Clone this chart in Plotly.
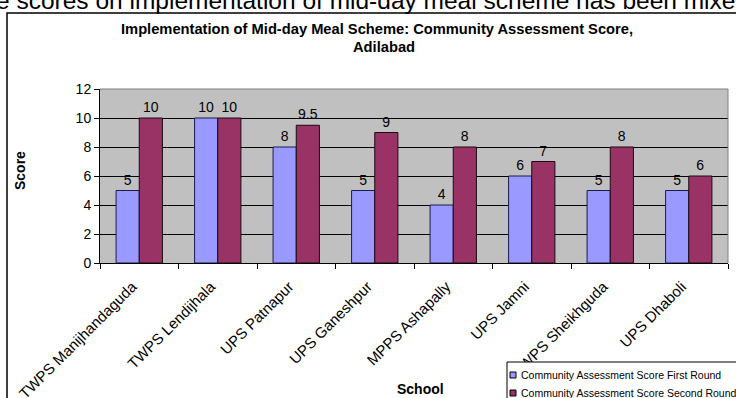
import plotly.graph_objects as go

schools = ["TWPS Manijhandaguda", "TWPS Lendijhala", "UPS Patnapur", "UPS Ganeshpur",
           "MPPS Ashapally", "UPS Jamni", "TWPS Sheikhguda", "UPS Dhaboli"]
first_round = [5, 10, 8, 5, 4, 6, 5, 5]
second_round = [10, 10, 9.5, 9, 8, 7, 8, 6]
first_labels = ["5", "10", "8", "5", "4", "6", "5", "5"]
second_labels = ["10", "10", "9.5", "9", "8", "7", "8", "6"]
series_names = ["Community Assessment Score First Round", "Community Assessment Score Second Round"]
series_colors = ["#9999FF", "#993366"]

W, H = 736, 398
L, R, T, B = 100, 8, 89, 135
pw, ph = W - L - R, H - T - B

def px(x):
    return (x - L) / pw

def py(y):
    return (H - B - y) / ph

fnt = "Liberation Sans, Arial, sans-serif"

fig = go.Figure()
fig.add_trace(go.Bar(
    x=schools, y=first_round, name=series_names[0],
    marker=dict(color=series_colors[0], line=dict(color="#1a1a4d", width=1)),
    text=first_labels, textposition="outside", cliponaxis=False,
    textfont=dict(size=14, color="black", family=fnt),
))
fig.add_trace(go.Bar(
    x=schools, y=second_round, name=series_names[1],
    marker=dict(color=series_colors[1], line=dict(color="#1a0a10", width=1)),
    text=second_labels, textposition="outside", cliponaxis=False,
    textfont=dict(size=14, color="black", family=fnt),
))

fig.update_layout(
    width=W, height=H,
    margin=dict(l=L, r=R, t=T, b=B, autoexpand=False),
    paper_bgcolor="white", plot_bgcolor="#C0C0C0",
    font=dict(family=fnt, color="black", size=12),
    barmode="group", bargap=0.41, bargroupgap=0,
    showlegend=False,
)
fig.update_xaxes(
    type="category", tickangle=-45, tickfont=dict(size=15, family=fnt),
    showline=True, linecolor="black", linewidth=1, mirror=False,
    ticks="outside", tickson="boundaries", ticklen=5, tickcolor="black",
    showgrid=False, automargin=False, ticklabelstandoff=8, ticklabelshift=-7,
)
fig.update_yaxes(
    range=[0, 12], dtick=2, tickfont=dict(size=14, family=fnt),
    showline=True, linecolor="black", linewidth=1,
    ticks="outside", ticklen=5, tickcolor="black",
    showgrid=True, gridcolor="black", gridwidth=1, zeroline=False, automargin=False,
)

# chart border box (extends beyond the visible window right/bottom)
fig.add_shape(type="rect", xref="paper", yref="paper",
              x0=px(7), y0=py(420), x1=px(760), y1=py(13),
              line=dict(color="black", width=1.5), fillcolor="rgba(0,0,0,0)", layer="below")
# gray top/right border of plot area
fig.add_shape(type="line", xref="paper", yref="paper", x0=0, x1=1, y0=1, y1=1,
              line=dict(color="#808080", width=1))
fig.add_shape(type="line", xref="paper", yref="paper", x0=1, x1=1, y0=0, y1=1,
              line=dict(color="#808080", width=1))

# manual legend
fig.add_shape(type="rect", xref="paper", yref="paper",
              x0=px(507), y0=py(410), x1=px(750), y1=py(362),
              line=dict(color="black", width=1), fillcolor="white")
for i, (nm, col) in enumerate(zip(series_names, series_colors)):
    yc = 375 + 18 * i
    fig.add_shape(type="rect", xref="paper", yref="paper",
                  x0=px(510), y0=py(yc + 3), x1=px(516), y1=py(yc - 3),
                  line=dict(color="black", width=1), fillcolor=col)
    fig.add_annotation(text=nm, xref="paper", yref="paper", x=px(519), y=py(yc),
                       xanchor="left", yanchor="middle", showarrow=False,
                       font=dict(size=10.5, family=fnt))

fig.add_annotation(text="<b>Implementation of Mid-day Meal Scheme: Community Assessment Score,</b>",
                   xref="paper", yref="paper", x=px(377), y=py(29), showarrow=False,
                   xanchor="center", yanchor="middle", font=dict(size=14.7, family=fnt))
fig.add_annotation(text="<b>Adilabad</b>",
                   xref="paper", yref="paper", x=px(384), y=py(47), showarrow=False,
                   xanchor="center", yanchor="middle", font=dict(size=14.7, family=fnt))
fig.add_annotation(text="<b>Score</b>", xref="paper", yref="paper", x=px(20), y=py(171),
                   xanchor="center", yanchor="middle",
                   textangle=-90, showarrow=False, font=dict(size=14, family=fnt))
fig.add_annotation(text="<b>School</b>", xref="paper", yref="paper", x=px(420), y=py(389),
                   xanchor="center", yanchor="middle",
                   showarrow=False, font=dict(size=14, family=fnt))
fig.add_annotation(text="e scores on implementation of mid-day meal scheme has been mixed",
                   xref="paper", yref="paper", x=px(-6), y=py(1), xanchor="left", yanchor="middle",
                   showarrow=False, font=dict(size=24.5, family=fnt, color="black"))

fig.write_html("out.html", config={"displayModeBar": False},
               post_script="document.body.style.margin='0';document.body.style.overflow='hidden';")
